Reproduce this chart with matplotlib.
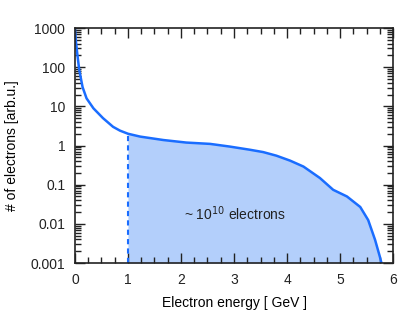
import matplotlib
matplotlib.use("Agg")
import matplotlib.pyplot as plt
import numpy as np
from matplotlib.ticker import FixedLocator, LogLocator, NullFormatter

plt.rcParams['font.family'] = ['Liberation Sans', 'DejaVu Sans']

energy = [0.0, 0.02, 0.044, 0.082, 0.145, 0.22, 0.35, 0.53, 0.72, 0.85, 1.0, 1.23, 1.67, 2.1, 2.55, 2.92, 3.3, 3.55, 3.8, 4.06, 4.31, 4.62, 4.87, 5.13, 5.38, 5.53, 5.66, 5.75, 5.78]
counts = [1000, 450, 226, 85, 31, 16, 8.9, 5.0, 3.0, 2.4, 2.0, 1.69, 1.38, 1.19, 1.10, 0.94, 0.78, 0.68, 0.55, 0.41, 0.29, 0.148, 0.074, 0.050, 0.027, 0.0125, 0.0039, 0.00145, 0.001]
cut_energy = 1.0
annotation = r"~ 10$^{10}$ electrons"
xticks = [0, 1, 2, 3, 4, 5, 6]
yticks = [0.001, 0.01, 0.1, 1, 10, 100, 1000]
ytick_labels = ["0.001", "0.01", "0.1", "1", "10", "100", "1000"]

line_color = "#1a6dff"
fill_color = "#b3cffb"

fig = plt.figure(figsize=(4.16, 3.2), dpi=100)
ax = fig.add_axes([0.180, 0.178, 0.765, 0.7345])

e = np.array(energy)
c = np.array(counts)
mask = e >= cut_energy
ax.fill_between(e[mask], 0.001, c[mask], color=fill_color, lw=0)
ax.plot(e, c, color=line_color, lw=1.8)
ax.plot([cut_energy, cut_energy], [0.001, c[e == cut_energy][0]], color=line_color, lw=1.5, ls=(0, (2.5, 2)))

ax.set_yscale('log')
ax.set_xlim(0, 6)
ax.set_ylim(0.001, 1000)
ax.set_xticks(xticks)
ax.set_xticklabels([str(x) for x in xticks])
ax.xaxis.set_minor_locator(FixedLocator(np.arange(0, 6.01, 0.25)))
ax.set_yticks(yticks)
ax.set_yticklabels(ytick_labels)
ax.yaxis.set_minor_locator(LogLocator(base=10, subs=np.arange(2, 10)))
ax.yaxis.set_minor_formatter(NullFormatter())

ax.tick_params(which='both', direction='in', top=True, right=True, labelsize=10, colors='#222222', width=1)
ax.tick_params(which='major', length=7, pad=7)
ax.tick_params(which='minor', length=4)
for s in ax.spines.values():
    s.set_linewidth(1.2)
    s.set_color('#222222')

ax.set_xlabel("Electron energy [ GeV ]", fontsize=10, labelpad=7)
ax.set_ylabel("# of electrons [arb.u.]", fontsize=10, labelpad=8)
ax.text(3.02, 0.018, annotation, fontsize=10, ha='center', va='center', color='#222222')

fig.savefig("out.png", dpi=100)
